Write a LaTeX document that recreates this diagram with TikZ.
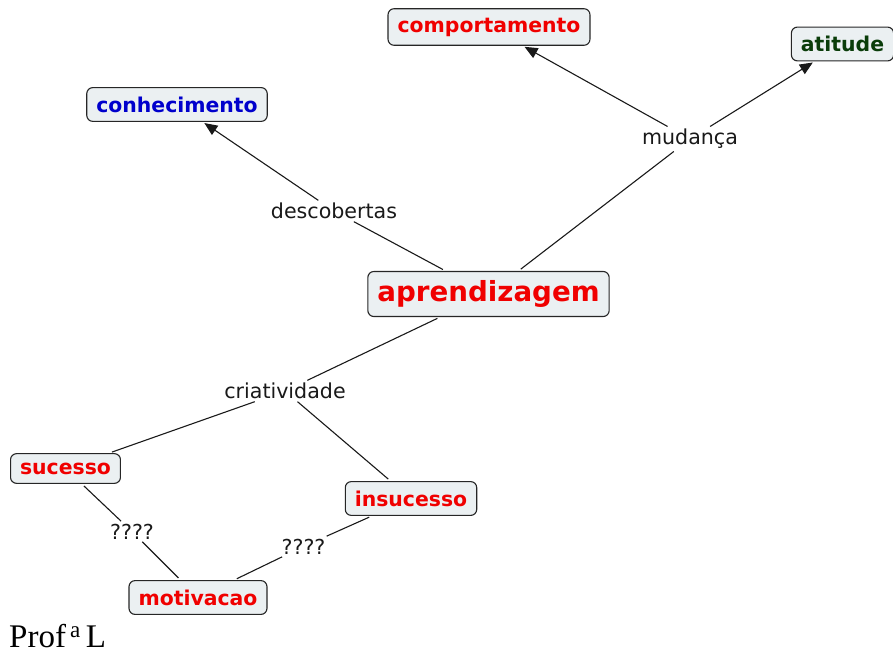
\documentclass[tikz,border=0pt]{standalone}
\usepackage{fontspec}
\newfontfamily\cmapfont{DejaVu Sans}
\newfontfamily\proffont{Liberation Serif}
\usetikzlibrary{arrows.meta}
\definecolor{boxfill}{HTML}{EBF0F2}
\definecolor{cred}{HTML}{F00000}
\definecolor{cblue}{HTML}{0000CC}
\definecolor{cgreen}{HTML}{0A3D0A}
\tikzset{
  concept/.style={draw=black!85, line width=1.1pt, fill=boxfill, rounded corners=6pt,
    inner xsep=9.5pt, inner ysep=9pt, font=\cmapfont\bfseries\fontsize{20.4}{22}\selectfont},
  linkp/.style={inner sep=2.5pt, font=\cmapfont\fontsize{20.6}{22}\selectfont, text=black!90},
  conn/.style={line width=1.1pt, draw=black!90},
  arr/.style={conn, -{Triangle[length=13pt,width=11pt]}, shorten >=2pt},
  tobox/.style={shorten >=3pt},
  frombox/.style={shorten <=3pt}
}
\begin{document}
\begin{tikzpicture}[x=1pt,y=-1pt]
\useasboundingbox (0,0) rectangle (893,655);
% concepts
\node[concept, text=cred] (comp) at (489,27) {comportamento};
\node[concept, text=cgreen] (atit) at (842.5,44) {atitude};
\node[concept, text=cblue] (conh) at (177,104.5) {conhecimento};
\node[concept, text=cred, inner ysep=9pt, font=\cmapfont\bfseries\fontsize{27.7}{30}\selectfont] (apr) at (488.5,294) {aprendizagem};
\node[concept, text=cred] (suc) at (65.5,468.5) {sucesso};
\node[concept, text=cred] (insuc) at (411,498.5) {insucesso};
\node[concept, text=cred] (motiv) at (198,597.5) {motivacao};
% linking phrases
\node[linkp] (desc) at (334,211) {descobertas};
\node[linkp] (mud) at (690,139) {mudança};
\node[linkp] (crit) at (285,391) {criatividade};
\node[linkp] (q1) at (132,531.5) {????};
\node[linkp] (q2) at (303.5,546.5) {????};
% connectors
\draw[conn, frombox] (apr) -- (desc);
\draw[arr] (desc) -- (conh);
\draw[conn, frombox] (apr) -- (mud);
\draw[arr] (mud) -- (comp);
\draw[arr] (mud) -- (atit);
\draw[conn, frombox] (apr) -- (crit);
\draw[conn, tobox] (crit) -- (suc);
\draw[conn, tobox] (crit) -- (insuc);
\draw[conn, frombox] (suc) -- (q1);
\draw[conn, tobox] (q1) -- (motiv);
\draw[conn, frombox] (insuc) -- (q2);
\draw[conn, tobox] (q2) -- (motiv);
% footer
\node[anchor=base west, inner sep=0pt, font=\proffont\fontsize{33}{36}\selectfont] (prof) at (9,647) {Prof\hspace{4pt}\textsuperscript{a}\hspace{5pt}L};
\end{tikzpicture}
\end{document}
